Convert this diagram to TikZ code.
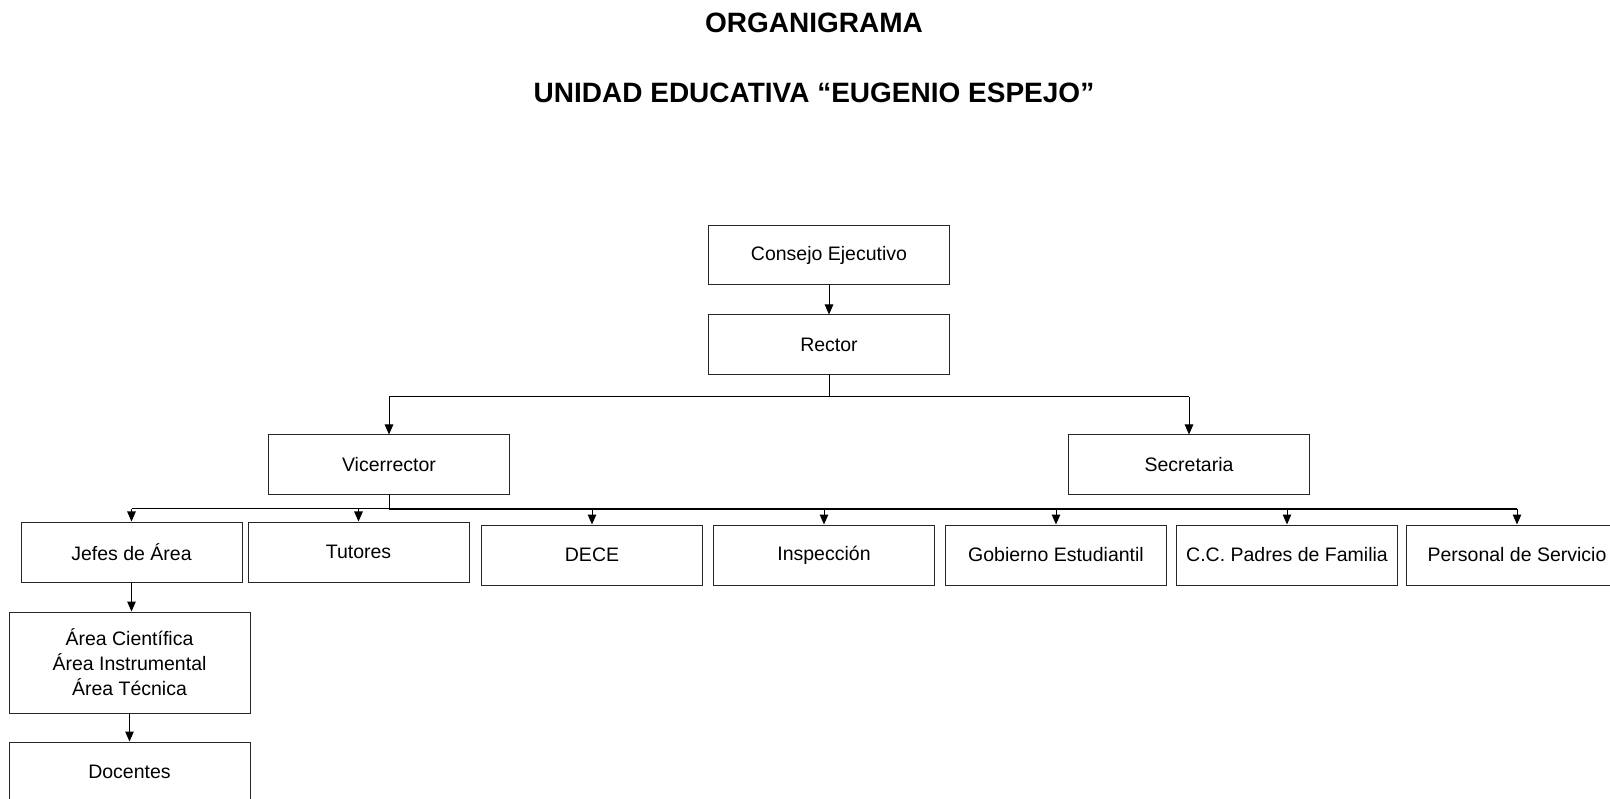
\documentclass[tikz,border=0pt]{standalone}
\usepackage{fontspec}
\setmainfont{Liberation Sans}
\usetikzlibrary{arrows.meta,calc}
\begin{document}
\begin{tikzpicture}[x=1pt,y=-1pt,
  box/.style={draw=black!85, line width=1pt, inner sep=0pt, align=center,
    minimum width=221pt, minimum height=60pt,
    font=\fontsize{19.5}{25}\selectfont},
  wbox/.style={box, minimum width=241pt},
  conn/.style={draw=black, line width=1pt},
  arr/.style={conn, -{Triangle[length=10pt,width=8.5pt]}},
  ttl/.style={inner sep=0pt, font=\fontsize{28}{34}\selectfont\bfseries}]
\useasboundingbox (0,0) rectangle (1610,799);
\clip (0,0) rectangle (1610,799);

\node[ttl] (t1) at (814,23) {ORGANIGRAMA};
\node[ttl] (t2) at (814,93) {UNIDAD EDUCATIVA “EUGENIO ESPEJO”};

\node[wbox, minimum height=59pt] (consejo) at (829,255.5) {Consejo Ejecutivo};
\node[wbox] (rector) at (829,345) {Rector};
\node[wbox] (vice) at (389,465) {Vicerrector};
\node[wbox] (secre) at (1189,465) {Secretaria};

\node[box] (jefes) at (131.5,552) {Jefes de Área};
\node[box] (tutores) at (358.5,552) {Tutores};
\node[box] (dece) at (592,555) {DECE};
\node[box] (insp) at (824,555) {Inspección};
\node[box] (gob) at (1056,555) {Gobierno Estudiantil};
\node[box] (padres) at (1287,555) {C.C. Padres de Familia};
\node[box] (pers) at (1517,555) {Personal de Servicio};

\node[wbox, minimum height=101pt] (area) at (129.5,662.5) {Área Científica\\Área Instrumental\\Área Técnica};
\node[wbox] (doc) at (129.5,772) {Docentes};

% top connectors
\draw[arr] (consejo.south) -- (rector.north);
\coordinate (rb) at (829,397);
\draw[conn] (rector.south) -- (rb);
\draw[conn] (vice.north |- rb) -- (secre.north |- rb);
\draw[arr] (vice.north |- rb) -- (vice.north);
\draw[arr] (secre.north |- rb) -- (secre.north);

% Vicerrector bus
\coordinate (bus) at (389,509);
\draw[conn] (vice.south) -- (bus);
\draw[conn] (jefes.north |- bus) -- (bus);
\draw[conn, line width=1.6pt] (bus) -- (pers.north |- bus);
\foreach \n in {jefes,tutores,dece,insp,gob,padres,pers}
  \draw[arr] (\n.north |- bus) -- (\n.north);

% left column
\draw[arr] (jefes.south) -- (jefes.south |- area.north);
\draw[arr] (area.south) -- (doc.north);
\end{tikzpicture}
\end{document}
